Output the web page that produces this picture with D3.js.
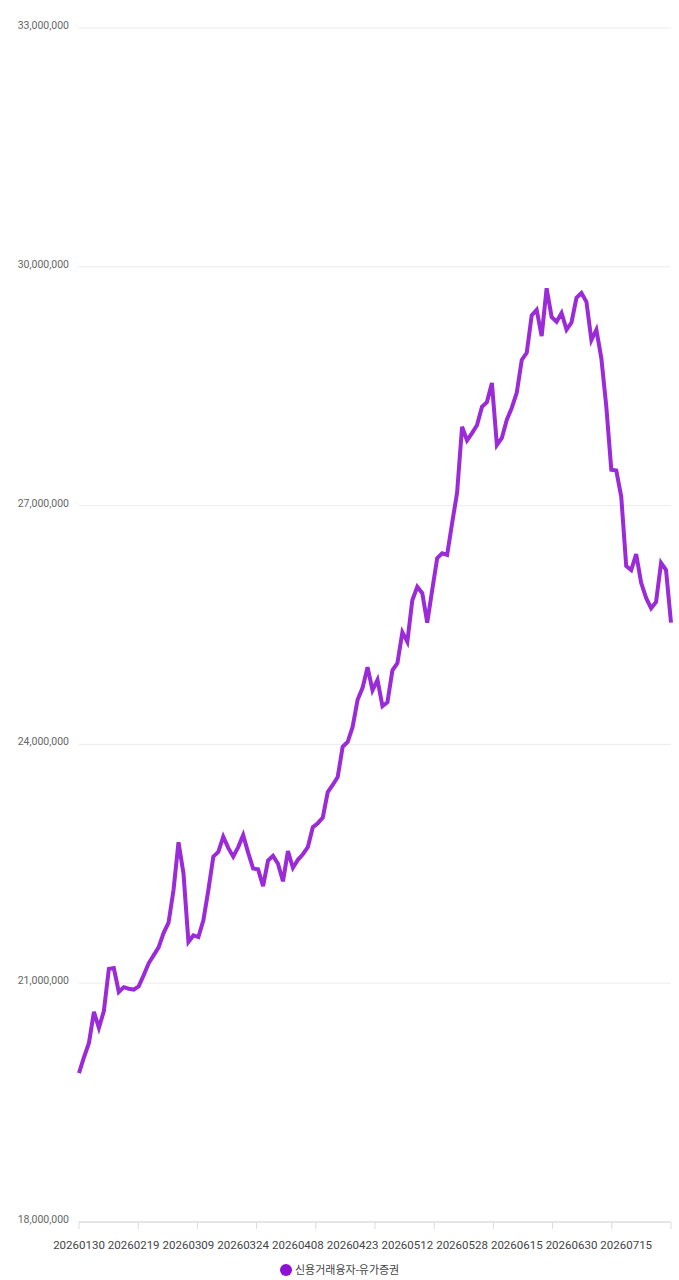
<!DOCTYPE html>
<html>
<head>
<meta charset="utf-8">
<script src="https://cdn.jsdelivr.net/npm/d3@7"></script>
<style>
  body { margin: 0; background: #fff; }
  text { font-family: Roboto, "Noto Sans CJK KR", sans-serif; }
</style>
</head>
<body>
<div id="chart"></div>
<script>
// trading days (categories)
var dates = [
  "20260130",
  "20260202","20260203","20260204","20260205","20260206","20260209","20260210","20260211","20260212","20260213",
  "20260219","20260220","20260223","20260224","20260225","20260226","20260227",
  "20260303","20260304","20260305","20260306","20260309","20260310","20260311","20260312","20260313",
  "20260316","20260317","20260318","20260319","20260320","20260323","20260324","20260325","20260326","20260327",
  "20260330","20260331",
  "20260401","20260402","20260403","20260406","20260407","20260408","20260409","20260410","20260413","20260414",
  "20260415","20260416","20260417","20260420","20260421","20260422","20260423","20260424","20260427","20260428",
  "20260429","20260430",
  "20260504","20260506","20260507","20260508","20260511","20260512","20260513","20260514","20260515","20260518",
  "20260519","20260520","20260521","20260522","20260526","20260527","20260528","20260529",
  "20260601","20260602","20260604","20260605","20260608","20260609","20260610","20260611","20260612","20260615",
  "20260616","20260617","20260618","20260619","20260622","20260623","20260624","20260625","20260626","20260629",
  "20260630",
  "20260701","20260702","20260703","20260706","20260707","20260708","20260709","20260710","20260713","20260714",
  "20260715","20260716","20260717","20260720","20260721","20260722","20260723","20260724","20260727","20260728"
];

// 신용거래융자-유가증권 (원)
var creditLoans = [
  19870000, 20070000, 20250000, 20640000, 20440000, 20650000, 21180000, 21190000, 20890000, 20950000,
  20930000, 20920000, 20960000, 21100000, 21250000, 21350000, 21450000, 21630000, 21760000, 22170000,
  22770000, 22380000, 21520000, 21600000, 21580000, 21790000, 22170000, 22590000, 22650000, 22840000,
  22700000, 22590000, 22710000, 22860000, 22640000, 22440000, 22430000, 22220000, 22540000, 22600000,
  22500000, 22280000, 22660000, 22450000, 22550000, 22620000, 22710000, 22960000, 23010000, 23080000,
  23400000, 23490000, 23590000, 23970000, 24030000, 24220000, 24560000, 24710000, 24970000, 24680000,
  24810000, 24480000, 24530000, 24930000, 25020000, 25410000, 25290000, 25810000, 25980000, 25900000,
  25530000, 25940000, 26340000, 26400000, 26380000, 26780000, 27160000, 27990000, 27820000, 27910000,
  28010000, 28240000, 28300000, 28540000, 27760000, 27850000, 28080000, 28230000, 28420000, 28830000,
  28920000, 29390000, 29460000, 29130000, 29730000, 29370000, 29310000, 29420000, 29210000, 29300000,
  29610000, 29670000, 29560000, 29080000, 29210000, 28850000, 28240000, 27450000, 27440000, 27110000,
  26240000, 26190000, 26390000, 26030000, 25840000, 25710000, 25790000, 26280000, 26190000, 25530000
];

var seriesName = "신용거래융자-유가증권";
var yTicks = [18000000, 21000000, 24000000, 27000000, 30000000, 33000000];
var xTickLabels = ["20260130","20260219","20260309","20260324","20260408","20260423",
                   "20260512","20260528","20260615","20260630","20260715"];

var W = 679, H = 1280;
var margin = {left: 79, right: 8, top: 28, bottom: 58};

var svg = d3.select("#chart").append("svg")
    .attr("width", W)
    .attr("height", H);

var x = d3.scalePoint()
    .domain(dates)
    .range([margin.left, W - margin.right]);

var y = d3.scaleLinear()
    .domain([18000000, 33000000])
    .range([H - margin.bottom, margin.top]);

// gridlines + y labels
var grid = svg.append("g");
grid.selectAll("line")
    .data(yTicks)
    .enter().append("line")
      .attr("x1", margin.left)
      .attr("x2", W - margin.right)
      .attr("y1", function(d){ return y(d); })
      .attr("y2", function(d){ return y(d); })
      .attr("stroke", function(d){ return d == 18000000 ? "#dcdcdc" : "#ececec"; })
      .attr("stroke-width", function(d){ return d == 18000000 ? 1.5 : 1; });

grid.selectAll("text")
    .data(yTicks)
    .enter().append("text")
      .attr("x", 69)
      .attr("y", function(d){ return y(d) + 1; })
      .attr("text-anchor", "end")
      .style("font-size", "10.5px")
      .attr("fill", "#666")
      .text(d3.format(","));

// x ticks (evenly spaced) and labels (every 11th category)
var tickPos = d3.scaleLinear().domain([0, 10]).range(x.range());
svg.append("g").selectAll("line")
    .data(d3.range(11))
    .enter().append("line")
      .attr("x1", function(d){ return tickPos(d); })
      .attr("x2", function(d){ return tickPos(d); })
      .attr("y1", y(18000000))
      .attr("y2", y(18000000) + 7)
      .attr("stroke", "#dcdcdc");

svg.append("g").selectAll("text")
    .data(xTickLabels)
    .enter().append("text")
      .attr("x", function(d){ return x(d); })
      .attr("y", 1249)
      .attr("text-anchor", "middle")
      .style("font-size", "11.5px")
      .attr("fill", "#444")
      .text(function(d){ return d; });

// the line
var line = d3.line()
    .x(function(d, i){ return x(dates[i]); })
    .y(function(d){ return y(d); });

svg.append("path")
    .datum(creditLoans)
    .attr("fill", "none")
    .attr("stroke", "#9b2bd9")
    .attr("stroke-width", 4)
    .attr("stroke-linejoin", "miter")
    .attr("d", line);

// legend
var legend = svg.append("g").attr("transform", "translate(286,1270)");
legend.append("circle")
    .attr("r", 6)
    .attr("fill", "#8c10d6");
legend.append("text")
    .attr("x", 9)
    .attr("y", 4)
    .style("font-size", "11px")
    .attr("fill", "#444")
    .text(seriesName);
</script>
</body>
</html>
